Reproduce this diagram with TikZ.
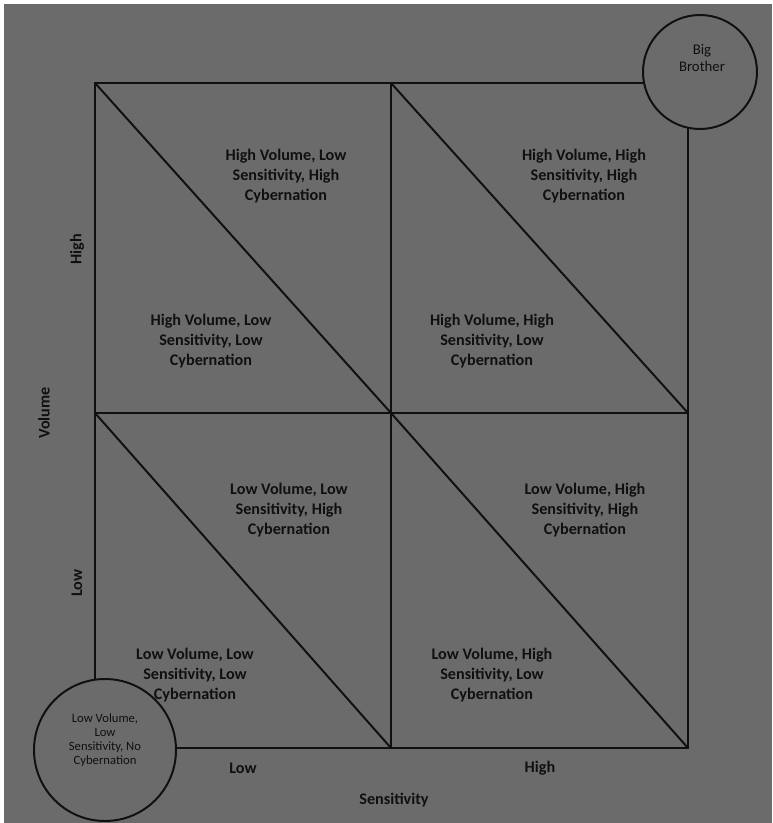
\documentclass[tikz,border=0pt]{standalone}
\usepackage{fontspec}
\setmainfont{Carlito}
\usepackage{xcolor}
\usetikzlibrary{positioning}

\definecolor{bggray}{HTML}{6B6B6B}
\definecolor{inkblack}{HTML}{101010}

\tikzset{
  gridline/.style={line width=1.4pt, draw=inkblack},
  celltext/.style={text=inkblack, font=\bfseries\fontsize{11.5}{14.5}\selectfont, align=center},
  axistext/.style={text=inkblack, font=\bfseries\fontsize{11.5}{14}\selectfont},
  bubble/.style={circle, draw=inkblack, line width=1.4pt, fill=bggray, inner sep=0pt},
  bubbletext/.style={text=inkblack, align=center}
}

\begin{document}
\begin{tikzpicture}[x=0.025cm, y=-0.025cm]
  % background and thin white margin
  \fill[white] (0,0) rectangle (772,823);
  \fill[bggray] (4,4) rectangle (772,823);
  \useasboundingbox (0,0) rectangle (772,823);

  % grid corners
  \coordinate (tl) at (95,83);
  \coordinate (tm) at (391,83);
  \coordinate (tr) at (688,83);
  \coordinate (ml) at (95,413);
  \coordinate (mm) at (391,413);
  \coordinate (mr) at (688,413);
  \coordinate (bl) at (95,748);
  \coordinate (bm) at (391,748);
  \coordinate (br) at (688,748);

  % outer frame and middle lines
  \draw[gridline] (tl) -- (tr) -- (br) -- (bl) -- cycle;
  \draw[gridline] (tm) -- (bm);
  \draw[gridline] (ml) -- (mr);

  % diagonals
  \draw[gridline] (tl) -- (mm);
  \draw[gridline] (tm) -- (mr);
  \draw[gridline] (ml) -- (bm);
  \draw[gridline] (mm) -- (br);

  %---- cell labels ----
  % high volume
  \node[celltext] (hlh) at (286,176) {High Volume, Low\\Sensitivity, High\\Cybernation};
  \node[celltext] (hhh) at (584,176) {High Volume, High\\Sensitivity, High\\Cybernation};
  \node[celltext] (hll) at (211,341) {High Volume, Low\\Sensitivity, Low\\Cybernation};
  \node[celltext] (hhl) at (492,341) {High Volume, High\\Sensitivity, Low\\Cybernation};
  % low volume
  \node[celltext] (llh) at (289,510) {Low Volume, Low\\Sensitivity, High\\Cybernation};
  \node[celltext] (lhh) at (585,510) {Low Volume, High\\Sensitivity, High\\Cybernation};
  \node[celltext] (lll) at (195,675) {Low Volume, Low\\Sensitivity, Low\\Cybernation};
  \node[celltext] (lhl) at (492,675) {Low Volume, High\\Sensitivity, Low\\Cybernation};

  %---- axes ----
  \node[axistext] (slow) at (243,768) {Low};
  \node[axistext] (shigh) at (540,768) {High};
  \node[axistext] (sens) at (394,800) {Sensitivity};
  \node[axistext, rotate=90] (vhigh) at (77,249) {High};
  \node[axistext, rotate=90] (vlow) at (77,583) {Low};
  \node[axistext, rotate=90] (vol) at (44,413) {Volume};

  %---- corner bubbles ----
  \node[bubble, minimum size=114*0.025cm] (bigbro) at (700,72) {};
  \node[bubbletext, font=\fontsize{10.5}{12.5}\selectfont] (bigbrotext) at (702,58) {Big\\Brother};
  \node[bubble, minimum size=142*0.025cm] (nocyb) at (105,750) {};
  \node[bubbletext, font=\fontsize{9}{9.8}\selectfont] (nocybtext) at (105,740) {Low Volume,\\Low\\Sensitivity, No\\Cybernation};

\end{tikzpicture}
\end{document}
